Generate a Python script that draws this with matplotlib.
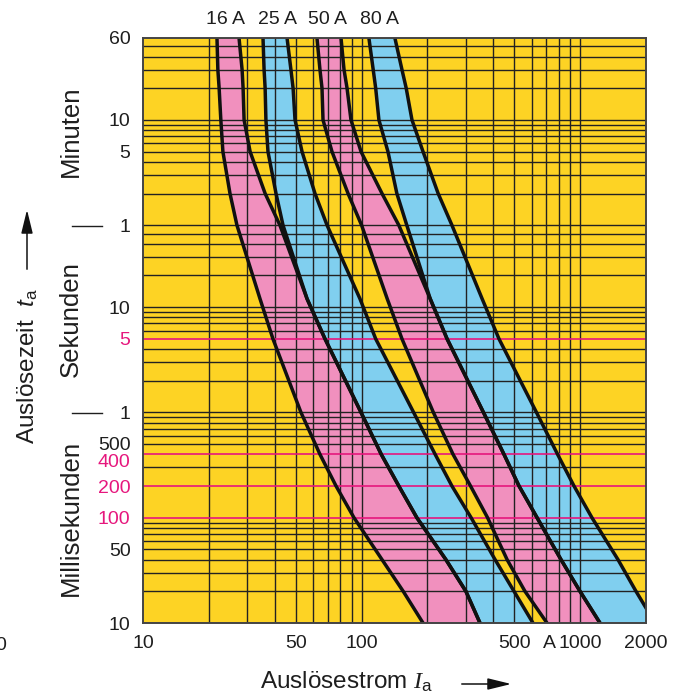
import matplotlib.pyplot as plt
import matplotlib.transforms as mtransforms
import numpy as np
from matplotlib.lines import Line2D

plt.rcParams['font.family'] = ['Liberation Sans', 'DejaVu Sans']
plt.rcParams['mathtext.fontset'] = 'custom'
plt.rcParams['mathtext.rm'] = 'Liberation Sans'
plt.rcParams['mathtext.it'] = 'Liberation Serif:italic'
plt.rcParams['mathtext.sf'] = 'Liberation Sans:italic'

# Auslösezeit in s (Stützstellen der Kennlinien)
zeit = [3600, 1800, 1200, 600, 300, 120, 60, 12, 5, 1, 0.4, 0.2, 0.1, 0.04, 0.02, 0.01]

# Auslösestrom in A: untere / obere Grenze der Bänder
i16_lo = [21.8, 22.0, 22.3, 22.7, 23.2, 25.0, 26.9, 34.3, 39.3, 52.8, 64.5, 76.4, 92.3, 124, 155, 191]
i16_hi = [27.5, 28.4, 28.7, 29.0, 30.9, 36.2, 42.3, 56.3, 68.0, 99.4, 123, 148, 179, 243, 300, 348]
i25_lo = [35.4, 35.8, 36.2, 36.5, 37.3, 40.6, 43.7, 56.3, 68.0, 99.4, 123, 148, 179, 243, 300, 348]
i25_hi = [45.6, 47.5, 48.6, 49.6, 53.4, 61.2, 69.5, 98.3, 116, 173, 217, 259, 317, 408, 498, 608]
i50_lo = [62.5, 64.5, 65.9, 66.6, 73.2, 86.7, 100, 131, 153, 213, 262, 315, 377, 463, 559, 705]
i50_hi = [80.5, 83.1, 85.8, 89.4, 99.4, 124, 148, 206, 246, 361, 448, 525, 635, 817, 998, 1232]
i80_lo = [108, 113, 116, 120, 132, 145, 161, 206, 246, 361, 448, 525, 635, 817, 998, 1232]
i80_hi = [142, 153, 160, 170, 191, 224, 259, 356, 425, 631, 788, 937, 1132, 1489, 1800, 2200]

baender = ['16 A', '25 A', '50 A', '80 A']

# Achsbeschriftung
x_ticks = [10, 50, 100, 500, 720, 1000, 2000]
x_labels = ['10', '50', '100', '500', 'A', '1000', '2000']
y_ticks = [3600, 600, 300, 60, 10, 5, 1, 0.5, 0.4, 0.2, 0.1, 0.05, 0.01]
y_labels = ['60', '10', '5', '1', '10', '5', '1', '500', '400', '200', '100', '50', '10']
y_rot = [5, 0.4, 0.2, 0.1]

gelb = '#FDD324'
rosa = '#F190BE'
blau = '#80CFEF'
rot = '#E6177D'
dunkel = '#1E1E1E'

W, H = 688, 695
fig = plt.figure(figsize=(W / 100, H / 100), dpi=100)
ax = fig.add_axes([143 / W, 1 - 623 / H, (646 - 143) / W, (623 - 38) / H])
ax.set_facecolor(gelb)
ax.set_xscale('log')
ax.set_yscale('log')
ax.set_xlim(10, 2000)
ax.set_ylim(0.01, 3600)


def fx(px):
    return px / W


def fy(py):
    return 1 - py / H


# Bänder
for lo, hi, farbe in [(i16_lo, i16_hi, rosa), (i25_lo, i25_hi, blau),
                      (i50_lo, i50_hi, rosa), (i80_lo, i80_hi, blau)]:
    ax.fill_betweenx(zeit, lo, hi, color=farbe, lw=0, zorder=1)

# Gitter
grid_i = [d * m for m in (10, 100) for d in range(1, 10)][1:] + [1000]
for x in grid_i:
    ax.axvline(x, color='#222222', lw=1.0, zorder=2)

grid_t = ([d * 0.01 for d in range(1, 10)] + [d * 0.1 for d in range(1, 10)]
          + list(range(1, 10)) + [10, 20, 30, 40, 50]
          + [60 * d for d in range(1, 10)] + [600, 1200, 1800, 2400, 3000])
for t in grid_t:
    if any(abs(t - r) < 1e-9 for r in y_rot):
        continue
    ax.axhline(t, color='#222222', lw=1.0, zorder=2)
for t in y_rot:
    ax.axhline(t, color=rot, lw=1.2, zorder=3)

# Kennlinien
for kurve in [i16_lo, i16_hi, i25_lo, i25_hi, i50_lo, i50_hi, i80_lo, i80_hi]:
    ax.plot(kurve, zeit, color='#111111', lw=2.5, zorder=4, solid_joinstyle='round')

for s in ax.spines.values():
    s.set_color('#444444')
    s.set_linewidth(1.4)
    s.set_zorder(5)

ax.minorticks_off()
ax.set_xticks(x_ticks)
ax.set_xticklabels(x_labels)
ax.set_yticks(y_ticks)
ax.set_yticklabels(y_labels)
ax.tick_params(length=0, labelsize=14, colors=dunkel)
ax.tick_params(axis='x', pad=8.5)
ax.tick_params(axis='y', pad=9)
for lab, t in zip(ax.get_yticklabels(), y_ticks):
    if t in y_rot:
        lab.set_color(rot)
    if t == 0.4:
        # wie im Original etwas nach unten versetzt
        lab.set_transform(lab.get_transform()
                          + mtransforms.ScaledTranslation(0, -6 / 100, fig.dpi_scale_trans))
    if t == 0.5:
        lab.set_transform(lab.get_transform()
                          + mtransforms.ScaledTranslation(0, 1 / 100, fig.dpi_scale_trans))

# Bandbezeichnungen oben
for name, px in zip(baender, [225, 277, 327, 380]):
    fig.text(fx(px), fy(20), name, ha='center', va='center', fontsize=14, color=dunkel)

# Gruppen an der Zeitachse
for name, py in [('Minuten', 131), ('Sekunden', 319), ('Millisekunden', 518)]:
    fig.text(fx(71), fy(py), name, rotation=90, ha='center', va='center',
             fontsize=18.5, color=dunkel)
for py in [226, 413]:
    fig.add_artist(Line2D([fx(72), fx(102)], [fy(py), fy(py)], color=dunkel, lw=1.0))

# Achstitel
fig.text(fx(28), fy(366), r'Auslösezeit  $\mathsf{t}_\mathrm{a}$', rotation=90,
         ha='center', va='center', fontsize=17.5, color=dunkel)
ax.annotate('', xy=(fx(27), fy(207)), xytext=(fx(27), fy(272)),
            xycoords='figure fraction', textcoords='figure fraction',
            arrowprops=dict(arrowstyle='-|>,head_length=0.9,head_width=0.22',
                            color='#111111', lw=1.1, mutation_scale=16))

fig.text(fx(260), fy(689), r'Auslösestrom $I_\mathrm{a}$', ha='left', va='baseline',
         fontsize=17.5, color=dunkel)
ax.annotate('', xy=(fx(514), fy(684)), xytext=(fx(459), fy(684)),
            xycoords='figure fraction', textcoords='figure fraction',
            arrowprops=dict(arrowstyle='-|>,head_length=0.9,head_width=0.22',
                            color='#111111', lw=1.1, mutation_scale=16))

# abgeschnittener Rest links unten
fig.text(fx(6), fy(645), '0', ha='right', va='center', fontsize=14, color=dunkel)

fig.savefig('out.png', dpi=100, facecolor='white')
